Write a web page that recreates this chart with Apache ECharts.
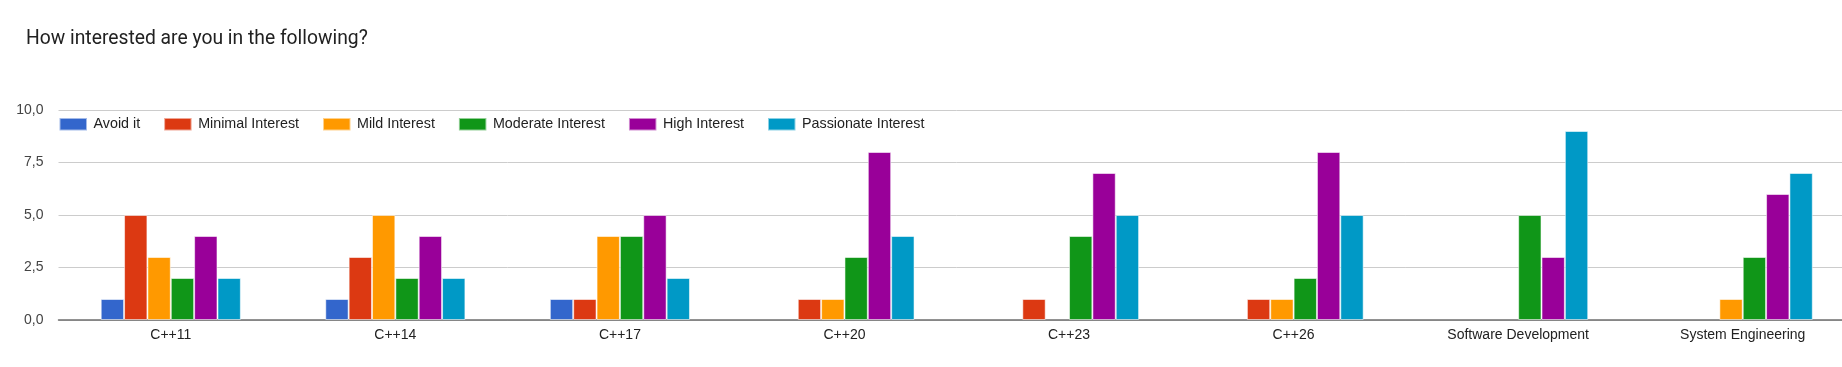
<!DOCTYPE html>
<html>
<head>
<meta charset="utf-8">
<script src="https://cdn.jsdelivr.net/npm/echarts@6/dist/echarts.min.js"></script>
<style>
html,body{margin:0;padding:0;background:#fff;overflow:hidden;}
#chart{width:1855px;height:367px;}
</style>
</head>
<body>
<div id="chart"></div>
<script>
const titleText = 'How interested are you in the following?';
const categories = ['C++11','C++14','C++17','C++20','C++23','C++26','Software Development','System Engineering'];
const seriesNames = ['Avoid it','Minimal Interest','Mild Interest','Moderate Interest','High Interest','Passionate Interest'];
const avoidIt      = [1,1,1,0,0,0,0,0];
const minimal      = [5,3,1,1,1,1,0,0];
const mild         = [3,5,4,1,0,1,0,1];
const moderate     = [2,2,4,3,4,2,5,3];
const high         = [4,4,5,8,7,8,3,6];
const passionate   = [2,2,2,4,5,5,9,7];
const yTicks = [0, 2.5, 5, 7.5, 10];
const colors = ['#3366cc','#dc3912','#ff9900','#109618','#990099','#0099c6'];

const allValues = [avoidIt, minimal, mild, moderate, high, passionate];

const chart = echarts.init(document.getElementById('chart'), null, {renderer:'canvas'});
chart.setOption({
  animation: false,
  backgroundColor: '#ffffff',
  color: colors,
  title: {
    text: titleText,
    left: 26, top: 30, padding: 0,
    textStyle: {fontFamily: 'Roboto', fontSize: 19.3, fontWeight: 'normal', color: '#212121'}
  },
  legend: {
    data: seriesNames,
    left: 58.5, top: 117, padding: 0,
    itemWidth: 27.5, itemHeight: 12.5, itemGap: 23,
    icon: 'rect',
    textStyle: {fontFamily: 'Arial, Liberation Sans', fontSize: 14.3, color: '#222', padding: [0,0,0,1.5]}
  },
  grid: {left: 58.5, right: 0, top: 110, bottom: 47, containLabel: false},
  xAxis: {
    type: 'category',
    data: categories,
    axisTick: {show: false},
    axisLine: {lineStyle: {color: '#6f6f6f', width: 1.5}},
    axisLabel: {fontFamily: 'Arial, Liberation Sans', fontSize: 14, color: '#222', margin: 8}
  },
  yAxis: {
    type: 'value',
    min: yTicks[0], max: yTicks[yTicks.length-1], interval: 2.5,
    axisLine: {show: false}, axisTick: {show: false},
    splitLine: {lineStyle: {color: '#cccccc', width: 1}},
    axisLabel: {
      fontFamily: 'Arial, Liberation Sans', fontSize: 14, color: '#444', margin: 15,
      formatter: v => v.toFixed(1).replace('.', ',')
    }
  },
  series: seriesNames.map((name, i) => ({
    name: name,
    type: 'bar',
    barGap: '0%',
    barCategoryGap: '37.6%',
    data: allValues[i].map(v => v === 0 ? null : v),
    itemStyle: {color: colors[i], borderColor: 'rgba(255,255,255,0.55)', borderWidth: 1}
  }))
});
</script>
</body>
</html>
